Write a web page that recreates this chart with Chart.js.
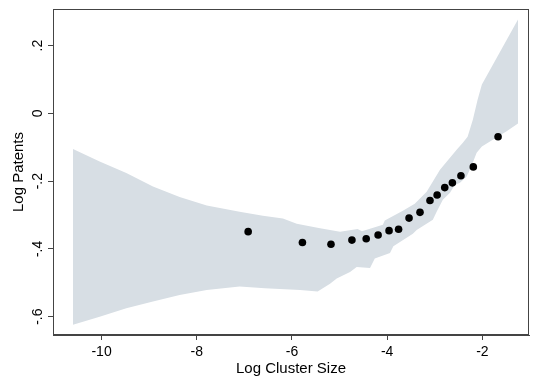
<!DOCTYPE html>
<html>
<head>
<meta charset="utf-8">
<script src="https://cdn.jsdelivr.net/npm/chart.js@4.4.1/dist/chart.umd.min.js"></script>
<style>
  html, body { margin: 0; padding: 0; background: #fff; }
</style>
</head>
<body>
<canvas id="chart" width="535" height="376"></canvas>
<script>
// Puntos (binscatter)
const clusterSize = [-6.92, -5.78, -5.18, -4.74, -4.44, -4.19, -3.96, -3.76, -3.54, -3.31, -3.10, -2.95, -2.79, -2.63, -2.45, -2.19, -1.67];
const logPatents = [-0.349, -0.381, -0.386, -0.374, -0.370, -0.359, -0.346, -0.342, -0.309, -0.292, -0.257, -0.241, -0.219, -0.205, -0.184, -0.158, -0.069];

// Banda de confianza: borde superior e inferior
const upperX = [-10.60, -10.04, -9.48, -8.92, -8.36, -7.79, -7.10, -6.61, -6.19, -5.90, -5.41, -4.99, -4.62, -4.53, -4.09, -4.05, -3.67, -3.42, -3.17, -2.89, -2.68, -2.54, -2.41, -2.31, -2.20, -2.10, -2.01, -1.25];
const upperY = [-0.105, -0.142, -0.176, -0.216, -0.247, -0.272, -0.290, -0.302, -0.310, -0.326, -0.339, -0.349, -0.341, -0.348, -0.329, -0.316, -0.287, -0.267, -0.231, -0.166, -0.131, -0.107, -0.087, -0.069, -0.019, 0.040, 0.085, 0.277];
const lowerX = [-10.60, -10.04, -9.48, -8.92, -8.36, -7.79, -7.10, -6.57, -5.83, -5.46, -5.20, -5.06, -4.78, -4.64, -4.36, -4.26, -3.94, -3.87, -3.46, -3.38, -3.04, -2.96, -2.83, -2.68, -2.58, -2.47, -2.33, -2.22, -2.12, -2.01, -1.84, -1.49, -1.25];
const lowerY = [-0.624, -0.600, -0.575, -0.555, -0.536, -0.521, -0.511, -0.516, -0.521, -0.526, -0.503, -0.487, -0.468, -0.453, -0.456, -0.428, -0.412, -0.392, -0.355, -0.344, -0.314, -0.290, -0.255, -0.234, -0.211, -0.205, -0.186, -0.152, -0.116, -0.098, -0.083, -0.053, -0.030];

// Ticks
const xTicks = [-10, -8, -6, -4, -2];
const yTicks = [0.2, 0, -0.2, -0.4, -0.6];
const yTickLabels = ['.2', '0', '-.2', '-.4', '-.6'];

const xRange = [-11.02, -1.02];
const yRange = [-0.654, 0.308];

const toPoints = (xs, ys) => xs.map((x, i) => ({ x: x, y: ys[i] }));

const frameColor = '#444';
const fontFamily = '"Liberation Sans", Arial, Helvetica, sans-serif';

// Marco completo y etiquetas del eje Y giradas
const framePlugin = {
  id: 'frame',
  afterDraw(chart) {
    const { ctx, chartArea: a } = chart;
    const yScale = chart.scales.y;
    ctx.save();
    ctx.strokeStyle = frameColor;
    ctx.lineWidth = 1;
    ctx.strokeRect(a.left + 0.5, a.top + 0.5, a.right - a.left - 1, a.bottom - a.top - 1);

    ctx.fillStyle = '#000';
    ctx.font = '14px ' + fontFamily;
    ctx.textAlign = 'center';
    ctx.textBaseline = 'middle';
    yTicks.forEach((v, i) => {
      const py = yScale.getPixelForValue(v);
      ctx.save();
      ctx.translate(38, py);
      ctx.rotate(-Math.PI / 2);
      ctx.fillText(yTickLabels[i], 0, 0);
      ctx.restore();
    });
    ctx.restore();
  }
};

new Chart(document.getElementById('chart'), {
  type: 'scatter',
  data: {
    datasets: [
      {
        // los puntos van primero para quedar encima de la banda
        data: toPoints(clusterSize, logPatents),
        pointRadius: 3.8,
        pointBackgroundColor: '#000',
        pointBorderWidth: 0,
        showLine: false,
        order: 0
      },
      {
        data: toPoints(lowerX, lowerY),
        showLine: true,
        borderWidth: 0,
        pointRadius: 0,
        fill: false,
        tension: 0,
        order: 1
      },
      {
        data: toPoints(upperX, upperY),
        showLine: true,
        borderWidth: 0,
        pointRadius: 0,
        backgroundColor: 'rgb(215, 222, 228)',
        fill: '-1',
        tension: 0,
        order: 2
      }
    ]
  },
  options: {
    responsive: false,
    animation: false,
    layout: { padding: { left: 10, right: 6, top: 9, bottom: 0 } },
    plugins: {
      legend: { display: false },
      tooltip: { enabled: false }
    },
    scales: {
      x: {
        type: 'linear',
        min: xRange[0],
        max: xRange[1],
        afterBuildTicks: s => { s.ticks = xTicks.map(v => ({ value: v })); },
        afterFit: s => { s.height = 41; },
        grid: { drawOnChartArea: false, drawTicks: true, tickLength: 5, tickColor: frameColor },
        border: { color: frameColor },
        ticks: {
          color: '#000',
          font: { family: fontFamily, size: 14 },
          padding: 4,
          maxRotation: 0,
          callback: v => String(v)
        },
        title: {
          display: true,
          text: 'Log Cluster Size',
          color: '#000',
          font: { family: fontFamily, size: 15, lineHeight: 1.0 },
          padding: 0
        }
      },
      y: {
        type: 'linear',
        min: yRange[0],
        max: yRange[1],
        afterBuildTicks: s => { s.ticks = yTicks.map(v => ({ value: v })); },
        afterFit: s => { s.width = 43; },
        grid: { drawOnChartArea: false, drawTicks: true, tickLength: 5, tickColor: frameColor },
        border: { color: frameColor },
        ticks: { display: false },
        title: {
          display: true,
          text: 'Log Patents',
          color: '#000',
          font: { family: fontFamily, size: 15, lineHeight: 1.2 },
          padding: 0
        }
      }
    }
  },
  plugins: [framePlugin]
});
</script>
</body>
</html>
